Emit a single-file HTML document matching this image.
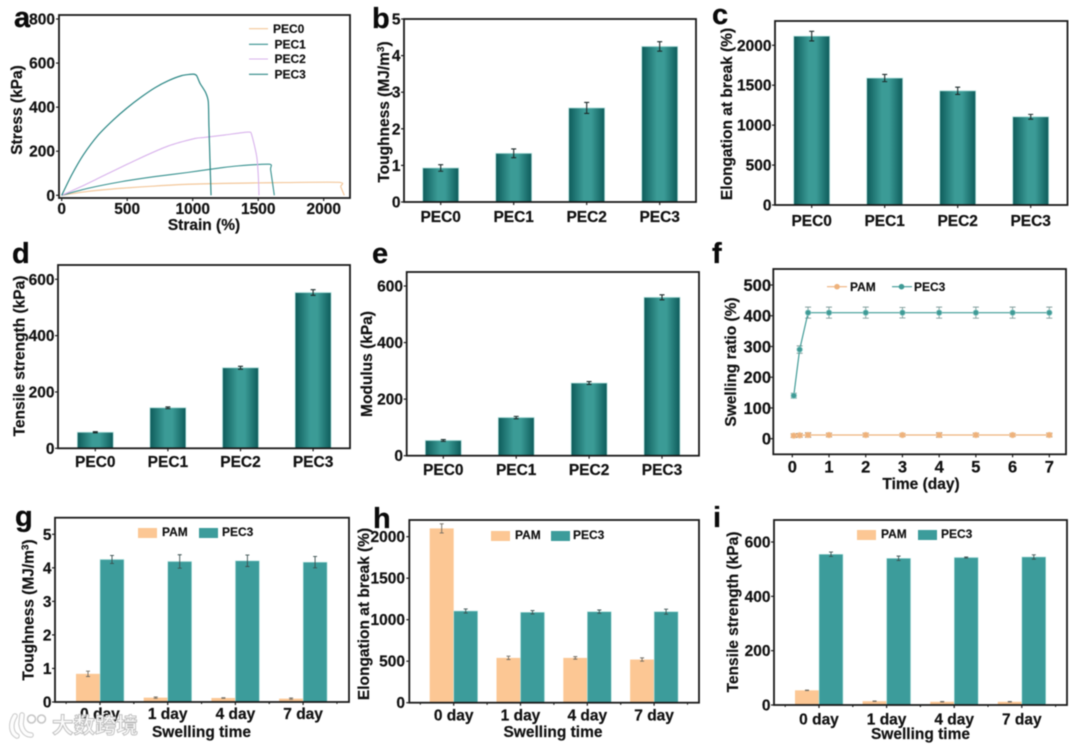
<!DOCTYPE html>
<html lang="en">
<head>
<meta charset="utf-8">
<title>PEC hydrogel mechanical and swelling properties</title>
<style>
html,body{margin:0;padding:0;background:#fff;}
#figure{display:block;width:1069px;height:744px;font-family:"Liberation Sans","Noto Sans CJK SC",sans-serif;font-weight:bold;fill:#111;filter:blur(.45px);}
.frame{fill:none;stroke:#1a1a1a;stroke-width:1.8;}
.letter{font-size:29px;fill:#0a0a0a;stroke:#0a0a0a;stroke-width:.3;}
.title{font-size:15.5px;text-anchor:middle;stroke:#111;stroke-width:.2;}
.legend{font-size:12px;stroke:#111;stroke-width:.15;}
.tick{font-size:15.5px;stroke:#111;stroke-width:.2;}
</style>
</head>
<body>
<svg id="figure" xmlns="http://www.w3.org/2000/svg" width="1069" height="744" viewBox="0 0 1069 744">
<defs>
<linearGradient id="barGrad" x1="0" y1="0" x2="1" y2="0">
<stop offset="0" stop-color="#0d5b5a"/><stop offset=".42" stop-color="#3b9b96"/><stop offset=".62" stop-color="#3b9b96"/><stop offset="1" stop-color="#0d5b5a"/>
</linearGradient>
</defs>

<g id="panel-a">
<text class="letter" x="14" y="27">a</text>
<text class="title" x="204" y="230">Strain (%)</text>
<text class="title" transform="translate(22,110) rotate(-90)">Stress (kPa)</text>
<text class="legend" x="273" y="33">PEC0</text>
<text class="legend" x="274.5" y="48.5">PEC1</text>
<text class="legend" x="274.5" y="63">PEC2</text>
<text class="legend" x="274.5" y="78.5">PEC3</text>
</g>

<g id="panel-b">
<text class="letter" x="372" y="28">b</text>
<text class="title" transform="translate(389,112) rotate(-90)">Toughness (MJ/m<tspan font-size="10" dy="-5">3</tspan><tspan dy="5">)</tspan></text>
</g>

<g id="panel-c">
<text class="letter" x="712" y="24">c</text>
<text class="title" transform="translate(732,114) rotate(-90)">Elongation at break (%)</text>
</g>

<g id="panel-d">
<text class="letter" x="12" y="263">d</text>
<text class="title" transform="translate(24.500,356) rotate(-90)">Tensile strength (kPa)</text>
</g>

<g id="panel-e">
<text class="letter" x="372" y="263">e</text>
<text class="title" transform="translate(372,364) rotate(-90)">Modulus (kPa)</text>
</g>

<g id="panel-f">
<text class="letter" x="712" y="263">f</text>
<text class="title" x="921" y="489">Time (day)</text>
<text class="title" transform="translate(736,362) rotate(-90)">Swelling ratio (%)</text>
<text class="legend" x="850" y="291">PAM</text>
<text class="legend" x="914" y="291">PEC3</text>
</g>

<g id="panel-g">
<text class="letter" x="15" y="526">g</text>
<text class="title" x="201.500" y="737">Swelling time</text>
<text class="title" transform="translate(33.500,610) rotate(-90)">Toughness (MJ/m<tspan font-size="10" dy="-5">3</tspan><tspan dy="5">)</tspan></text>
<text class="legend" x="162" y="536">PAM</text>
<text class="legend" x="222" y="536">PEC3</text>
</g>

<g id="panel-h">
<text class="letter" x="373" y="528">h</text>
<text class="title" x="553" y="737">Swelling time</text>
<text class="title" transform="translate(369,614) rotate(-90)">Elongation at break (%)</text>
<text class="legend" x="515" y="539">PAM</text>
<text class="legend" x="573" y="539">PEC3</text>
</g>

<g id="panel-i">
<text class="letter" x="713" y="527">i</text>
<text class="title" x="920.500" y="739">Swelling time</text>
<text class="title" transform="translate(738,612) rotate(-90)">Tensile strength (kPa)</text>
<text class="legend" x="881" y="538">PAM</text>
<text class="legend" x="941" y="538">PEC3</text>
</g>

<g id="watermark">
<path d="M15 716 C10 724 11 733 17 736 M22 715 L21 724 C22 731 26 735 31 735" fill="none" stroke="#c6c6c6" stroke-width="5.5" stroke-linecap="round"/>
<path d="M15 716 C10 724 11 733 17 736 M22 715 L21 724 C22 731 26 735 31 735" fill="none" stroke="#fdfdfd" stroke-width="3.6" stroke-linecap="round"/>
<circle cx="31.500" cy="719" r="4" fill="#fff" stroke="#c4c4c4" stroke-width="1.500"/>
<circle cx="41.500" cy="719" r="4" fill="#fff" stroke="#c4c4c4" stroke-width="1.500"/>
<text x="52" y="733" font-size="21.500" fill="#fbfbfb" stroke="#bdbdbd" stroke-width=".9">大数跨境</text>
</g>
</svg>

<script>
// Panel a: stress-strain curves (strain %, stress kPa)
const aXTicks = [0, 500, 1000, 1500, 2000];
const aYTicks = [0, 200, 400, 600, 800];
const pec0Strain = [0, 203, 458, 712, 966, 1247, 1590, 2112, 2130, 2157];
const pec0Stress = [0, 18, 32, 42, 50, 54, 57, 59, 39, 0];
const pec1Strain = [0, 203, 458, 712, 966, 1145, 1208, 1336, 1585, 1595, 1623];
const pec1Stress = [0, 32, 62, 85, 104, 119, 124, 133, 141, 115, 0];
const pec2Strain = [0, 150, 330, 585, 814, 1018, 1080, 1247, 1425, 1451, 1489, 1501, 1506];
const pec2Stress = [0, 40, 92, 165, 224, 258, 262, 274, 287, 273, 175, 85, 0];
const pec3Strain = [0, 76, 165, 280, 394, 496, 610, 712, 814, 916, 1005, 1030, 1056, 1099, 1119, 1124, 1140];
const pec3Stress = [0, 92, 183, 274, 342, 395, 447, 488, 520, 543, 550, 543, 508, 466, 425, 311, 0];

// Single-series bar panels
const pecCategories = ['PEC0', 'PEC1', 'PEC2', 'PEC3'];
const bTicks = [0, 1, 2, 3, 4, 5];
const bValues = [0.93, 1.33, 2.57, 4.25];
const bErrors = [0.09, 0.12, 0.15, 0.13];
const cTicks = [0, 500, 1000, 1500, 2000];
const cValues = [2115, 1590, 1430, 1105];
const cErrors = [60, 45, 45, 30];
const dTicks = [0, 200, 400, 600];
const dValues = [57, 144, 286, 553];
const dErrors = [2, 3, 5, 10];
const eTicks = [0, 200, 400, 600];
const eValues = [54, 135, 257, 560];
const eErrors = [3, 4, 5, 9];

// Panel f: swelling ratio over time
const fXTicks = [0, 1, 2, 3, 4, 5, 6, 7];
const fYTicks = [0, 100, 200, 300, 400, 500];
const fTime = [0.04, 0.2, 0.43, 1, 2, 3, 4, 5, 6, 7];
const fPam = [10, 11, 12, 12, 12, 12, 12, 12, 12, 12];
const fPamErr = [6, 6, 7, 6, 6, 5, 7, 6, 5, 6];
const fPec3 = [140, 290, 410, 410, 410, 410, 410, 410, 410, 410];
const fPec3Err = [8, 12, 18, 18, 18, 17, 18, 18, 18, 18];

// Grouped bar panels
const dayCategories = ['0 day', '1 day', '4 day', '7 day'];
const gTicks = [0, 1, 2, 3, 4, 5];
const gPam = [0.84, 0.13, 0.12, 0.1];
const gPamErr = [0.08, 0.02, 0.01, 0.02];
const gPec3 = [4.25, 4.19, 4.21, 4.17];
const gPec3Err = [0.12, 0.2, 0.17, 0.17];
const hTicks = [0, 500, 1000, 1500, 2000];
const hPam = [2100, 540, 540, 520];
const hPamErr = [55, 20, 15, 20];
const hPec3 = [1105, 1090, 1097, 1097];
const hPec3Err = [25, 20, 20, 30];
const iTicks = [0, 200, 400, 600];
const iPam = [54, 14, 12, 12];
const iPamErr = [1, 1, 1, 1];
const iPec3 = [555, 540, 543, 545];
const iPec3Err = [8, 8, 2, 8];

const NS = 'http://www.w3.org/2000/svg';
function mk(tag, attrs, parent, text) {
  const n = document.createElementNS(NS, tag);
  for (const k in attrs) n.setAttribute(k, attrs[k]);
  if (text !== undefined) n.textContent = text;
  parent.appendChild(n);
  return n;
}
function linear(d0, d1, r0, r1) {
  return v => r0 + (v - d0) * (r1 - r0) / (d1 - d0);
}
function smoothPath(pts) {
  let d = 'M' + pts[0][0] + ' ' + pts[0][1];
  for (let i = 0; i < pts.length - 1; i++) {
    const p0 = pts[Math.max(0, i - 1)], p1 = pts[i], p2 = pts[i + 1], p3 = pts[Math.min(pts.length - 1, i + 2)];
    const k = 0.12;
    d += 'C' + (p1[0] + (p2[0] - p0[0]) * k) + ' ' + (p1[1] + (p2[1] - p0[1]) * k) + ' ' +
         (p2[0] - (p3[0] - p1[0]) * k) + ' ' + (p2[1] - (p3[1] - p1[1]) * k) + ' ' + p2[0] + ' ' + p2[1];
  }
  return d;
}
function drawFrame(g, box) {
  const r = mk('rect', {x: box.l, y: box.t, width: box.r - box.l, height: box.b - box.t, class: 'frame'}, g);
  
  
}
function drawYAxis(g, box, ticks, y, labelRight, fs) {
  ticks.forEach(t => {
    const m = mk('line', {x1: box.l - 3, x2: box.l, y1: y(t), y2: y(t), stroke: '#1a1a1a', 'stroke-width': 1.2}, g);
    
    
    const s = mk('text', {x: labelRight, y: y(t) + (fs ? 6 : 5.5), 'text-anchor': 'end', class: 'tick', style: fs ? 'font-size:' + fs + 'px' : ''}, g, t);
    
    
  });
}
function drawXAxis(g, box, positions, labels, labelY, fs) {
  positions.forEach((p, i) => {
    const m = mk('line', {x1: p, x2: p, y1: box.b, y2: box.b + 3, stroke: '#1a1a1a', 'stroke-width': 1.2}, g);
    
    
    const s = mk('text', {x: p, y: labelY, 'text-anchor': 'middle', class: 'tick', style: fs ? 'font-size:' + fs + 'px' : ''}, g, labels[i]);
    
    
  });
}
function drawError(g, x, y, v, e, capW, color, sw) {
  const cap = mk('path', {
    d: 'M' + (x - capW) + ' ' + y(v + e) + 'H' + (x + capW) + 'M' + (x - capW) + ' ' + y(v - e) + 'H' + (x + capW) + 'M' + x + ' ' + y(v + e) + 'V' + y(v - e),
    fill: 'none', stroke: color, 'stroke-width': sw
  }, g);
  
  
}

function barPanel(id, box, ticks, yTopTick, yTopPx, cats, c0, step, values, errors, tickRight, labelY) {
  const g = document.getElementById(id);
  const y = linear(0, yTopTick, box.b, yTopPx);
  const x = i => c0 + i * step;
  values.forEach((v, i) => {
    const b = mk('rect', {x: x(i) - 18, y: y(v), width: 36, height: box.b - y(v), fill: 'url(#barGrad)', stroke: '#b4e2de', 'stroke-width': .8}, g);
    
    
    drawError(g, x(i), y, v, errors[i], 2.5, '#1c2a2a', 1.1);
  });
  drawFrame(g, box);
  drawYAxis(g, box, ticks, y, tickRight);
  drawXAxis(g, box, cats.map((c, i) => x(i)), cats, labelY);
}

function groupPanel(id, box, ticks, yTopTick, yTopPx, cats, c0, step, pam, pamErr, pec, pecErr, tickRight, labelY, leg) {
  const g = document.getElementById(id);
  const y = linear(0, yTopTick, box.b, yTopPx);
  const x = i => c0 + i * step;
  const w = 24;
  cats.forEach((c, i) => {
    const a = mk('rect', {x: x(i) - w, y: y(pam[i]), width: w, height: box.b - y(pam[i]), fill: '#fcc794'}, g);
    
    
    const b = mk('rect', {x: x(i), y: y(pec[i]), width: w, height: box.b - y(pec[i]), fill: '#3c9c9b', stroke: '#bfe8e4', 'stroke-width': .6}, g);
    
    
    drawError(g, x(i) - w / 2, y, pam[i], pamErr[i], 2, '#6f6a60', .9);
    drawError(g, x(i) + w / 2, y, pec[i], pecErr[i], 2, '#3a4f4f', .9);
    [x(i) - step / 2, x(i) + step / 2].forEach(p => {
      const mn = mk('line', {x1: p, x2: p, y1: box.b, y2: box.b + 2, stroke: '#1a1a1a', 'stroke-width': 1}, g);
      
      
    });
  });
  drawFrame(g, box);
  drawYAxis(g, box, ticks, y, tickRight);
  drawXAxis(g, box, cats.map((c, i) => x(i)), cats, labelY);
  const s1 = mk('rect', {x: leg.x1, y: leg.y, width: 19, height: 10, fill: '#fcc794'}, g);
  
  
  const s2 = mk('rect', {x: leg.x2, y: leg.y, width: 19, height: 10, fill: '#3c9c9b'}, g);
  
  
}

// Panel a
(function () {
  const g = document.getElementById('panel-a');
  const box = {l: 59, r: 350, t: 15, b: 198};
  const x = linear(0, 2000, 61.7, 323.7);
  const y = linear(0, 800, 195.3, 19);
  const series = [
    ['pec0', pec0Strain, pec0Stress, '#f3c79a', 1.2],
    ['pec1', pec1Strain, pec1Stress, '#35908e', 1.1],
    ['pec2', pec2Strain, pec2Stress, '#d8b2ec', 1.1],
    ['pec3', pec3Strain, pec3Stress, '#2b8785', 1.2]
  ];
  const legendRows = [28.7, 44.3, 59, 74.3];
  series.forEach((s, k) => {
    const pts = s[1].map((v, i) => [x(v), y(s[2][i])]);
    const p = mk('path', {d: smoothPath(pts), fill: 'none', stroke: s[3], 'stroke-width': s[4], 'stroke-linejoin': 'round'}, g);
    
    
    const l = mk('line', {x1: 249, x2: 268, y1: legendRows[k], y2: legendRows[k], stroke: s[3], 'stroke-width': s[4]}, g);
    
    
  });
  drawFrame(g, box);
  drawYAxis(g, box, aYTicks, y, 55);
  drawXAxis(g, box, aXTicks.map(x), aXTicks, 214);
})();

barPanel('panel-b', {l: 404, r: 696, t: 19, b: 202}, bTicks, 5, 19, pecCategories, 440.7, 73, bValues, bErrors, 400.5, 222);
barPanel('panel-c', {l: 775, r: 1067.5, t: 21, b: 205}, cTicks, 2000, 45.3, pecCategories, 811.7, 73, cValues, cErrors, 771.5, 226);
barPanel('panel-d', {l: 58, r: 350, t: 265, b: 448.3}, dTicks, 600, 279.3, pecCategories, 95.3, 72.6, dValues, dErrors, 54.5, 467);
barPanel('panel-e', {l: 406.7, r: 699, t: 272, b: 455.7}, eTicks, 600, 286, pecCategories, 443.3, 72.9, eValues, eErrors, 403, 475);

// Panel f
(function () {
  const g = document.getElementById('panel-f');
  const box = {l: 773.3, r: 1066, t: 269, b: 454.3};
  const x = linear(0, 7, 792.3, 1049.3);
  const y = linear(0, 500, 438.7, 285);
  const series = [
    ['pam', fPam, fPamErr, '#eeb27c', '#7a4a20', 837, 827, 847],
    ['pec3', fPec3, fPec3Err, '#3f9a96', '#7f9c9a', 901.5, 892, 912]
  ];
  series.forEach(s => {
    s[1].forEach((v, i) => drawError(g, x(fTime[i]), y, v, s[2][i], 3, s[4], .9));
    const p = mk('polyline', {points: s[1].map((v, i) => x(fTime[i]) + ',' + y(v)).join(' '), fill: 'none', stroke: s[3], 'stroke-width': 1.2}, g);
    
    
    s[1].forEach((v, i) => {
      const c = mk('circle', {cx: x(fTime[i]), cy: y(v), r: 2.8, fill: s[3], stroke: s[0] === 'pam' ? '#f4c79a' : '#8fcac6', 'stroke-width': .7}, g);
      
      
    });
    const ll = mk('line', {x1: s[6], x2: s[7], y1: 286.7, y2: 286.7, stroke: s[3], 'stroke-width': 1.1}, g);
    
    
    const lm = mk('circle', {cx: s[5], cy: 286.7, r: 2.8, fill: s[3]}, g);
    
    
  });
  drawFrame(g, box);
  drawYAxis(g, box, fYTicks, y, 771, 16.5);
  drawXAxis(g, box, fXTicks.map(x), fXTicks, 472.5, 16.5);
})();

groupPanel('panel-g', {l: 55, r: 349, t: 517.7, b: 702}, gTicks, 5, 534.3, dayCategories, 100, 67.7, gPam, gPamErr, gPec3, gPec3Err, 51.5, 719, {x1: 138, x2: 199, y: 528});
groupPanel('panel-h', {l: 409.3, r: 699, t: 520, b: 702.7}, hTicks, 2000, 536.7, dayCategories, 453.7, 66.8, hPam, hPamErr, hPec3, hPec3Err, 405, 720.5, {x1: 491, x2: 551, y: 531});
groupPanel('panel-i', {l: 774, r: 1067, t: 520, b: 705}, iTicks, 600, 542, dayCategories, 819, 67.6, iPam, iPamErr, iPec3, iPec3Err, 770.5, 724.5, {x1: 857, x2: 918, y: 530});

// keep watermark on top of tick labels
const fig = document.getElementById('figure');
fig.appendChild(document.getElementById('watermark'));
</script>
</body>
</html>
